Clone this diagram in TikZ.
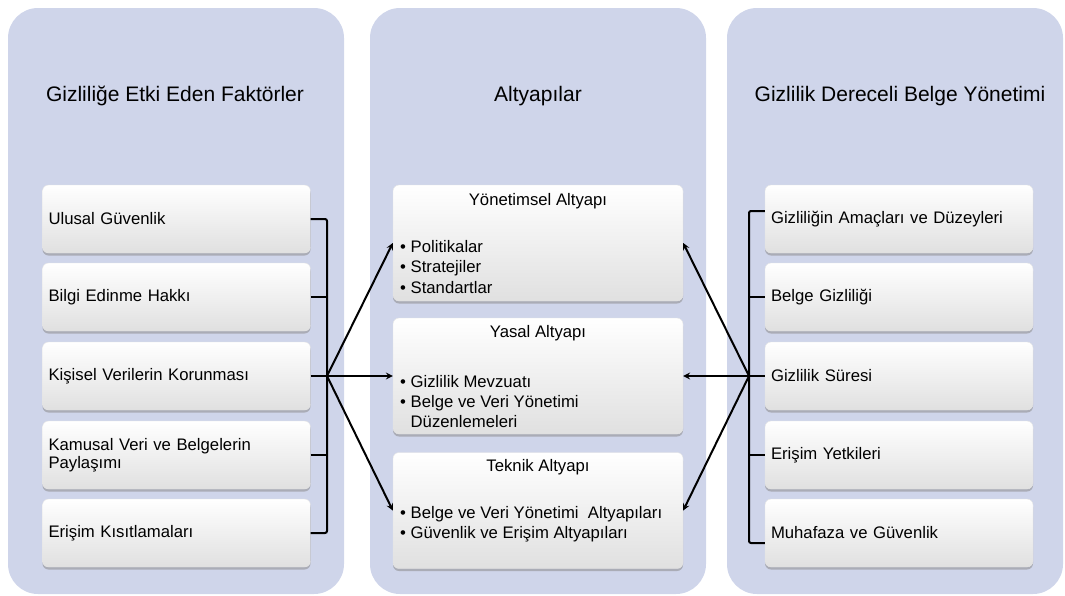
\documentclass[tikz,border=0pt]{standalone}
\usepackage{fontspec}
\setmainfont{Liberation Sans}
\usepackage{tikz}
\usetikzlibrary{shadows,calc}
\definecolor{panelblue}{RGB}{207,213,234}
\definecolor{boxgray}{RGB}{224,224,224}

\begin{document}
\begin{tikzpicture}[>=stealth,x=1pt,y=-1pt]
\tikzstyle{panel}=[fill=panelblue,rounded corners=30pt,minimum width=336pt,minimum height=586pt,inner sep=0pt];
\tikzstyle{head}=[font=\fontsize{21}{25}\selectfont];
\tikzstyle{card}=[rounded corners=6pt,top color=white,bottom color=boxgray,draw=gray!20,line width=0.4pt,
  drop shadow={shadow xshift=0pt,shadow yshift=-2.5pt,opacity=.55,fill=gray!90}];
\tikzstyle{facbox}=[card,minimum height=68pt,text width=256pt,inner xsep=6pt,align=left,font=\fontsize{16.7}{18.5}\selectfont];
\tikzstyle{infbox}=[card,minimum width=290pt,minimum height=116pt];
\tikzstyle{txt}=[font=\fontsize{16.7}{20.3}\selectfont,inner sep=0pt,align=left];
\tikzstyle{bracket}=[line width=2pt,rounded corners=2pt];
\tikzstyle{link}=[->,line width=2pt];
\useasboundingbox (0,0) rectangle (1065,595);
% draw panels
    \node[panel] (pf) at (176,301) {};
    \node[panel] (pa) at (538,301) {};
    \node[panel] (pg) at (895,301) {};
    \node[head] (hdf) at (175,96) {Gizliliğe Etki Eden Faktörler};
    \node[head] (hda) at (538,96) {Altyapılar};
    \node[head] (hdg) at (900,96) {Gizlilik Dereceli Belge Yönetimi};
% draw left column
%   nodes
    \node[facbox] (f1) at (176.5,219) {Ulusal Güvenlik};
    \node[facbox] (f2) at (176.5,297) {Bilgi Edinme Hakkı};
    \node[facbox] (f3) at (176.5,376) {Kişisel Verilerin Korunması};
    \node[facbox] (f4) at (176.5,455) {Kamusal Veri ve Belgelerin\\Paylaşımı};
    \node[facbox] (f5) at (176.5,533) {Erişim Kısıtlamaları};
    \coordinate (hf) at (327,376);
% draw middle column
%   nodes
    \node[infbox] (a1) at (538,243) {};
    \node[infbox] (a2) at (538,376) {};
    \node[infbox] (a3) at (538,510.5) {};
    \node[txt] (a1t) at (538,201) {Yönetimsel Altyapı};
    \node[txt] (a2t) at (538,333) {Yasal Altyapı};
    \node[txt] (a3t) at (538,467) {Teknik Altyapı};
    \node[txt,anchor=west] (a1b) at (400,267) {\textbullet\ Politikalar\\\textbullet\ Stratejiler\\\textbullet\ Standartlar};
    \node[txt,anchor=west] (a2b) at (400,401.5) {\textbullet\ Gizlilik Mevzuatı\\\textbullet\ Belge ve Veri Yönetimi\\\phantom{\textbullet\ }Düzenlemeleri};
    \node[txt,anchor=west] (a3b) at (400,524.5) {\textbullet\ Belge ve Veri Yönetimi\ \ Altyapıları\\\textbullet\ Güvenlik ve Erişim Altyapıları};
% draw right column
%   nodes
    \node[facbox] (g1) at (899,219) {Gizliliğin Amaçları ve Düzeyleri};
    \node[facbox] (g2) at (899,297) {Belge Gizliliği};
    \node[facbox] (g3) at (899,376) {Gizlilik Süresi};
    \node[facbox] (g4) at (899,455) {Erişim Yetkileri};
    \node[facbox] (g5) at (899,533) {Muhafaza ve Güvenlik};
    \coordinate (hg) at (749,376);
%   edges
    \draw[bracket] (f1.east) -| (hf) |- (f5.east);
    \draw[bracket] (f2.east) -- (f2.east -| hf);
    \draw[bracket] (f3.east) -- (hf);
    \draw[bracket] (f4.east) -- (f4.east -| hf);
    \draw[bracket] ($(g1.west)+(0,-8)$) -| (hg) |- ($(g5.west)+(0,10)$);
    \draw[bracket] (g2.west) -- (g2.west -| hg);
    \draw[bracket] (g3.west) -- (hg);
    \draw[bracket] (g4.west) -- (g4.west -| hg);
    \draw[link] (hf) -- (a1.west);
    \draw[link] (hf) -- (a2.west);
    \draw[link] (hf) -- (a3.west);
    \draw[link] (hg) -- (a1.east);
    \draw[link] (hg) -- (a2.east);
    \draw[link] (hg) -- (a3.east);
\end{tikzpicture}
\end{document}
